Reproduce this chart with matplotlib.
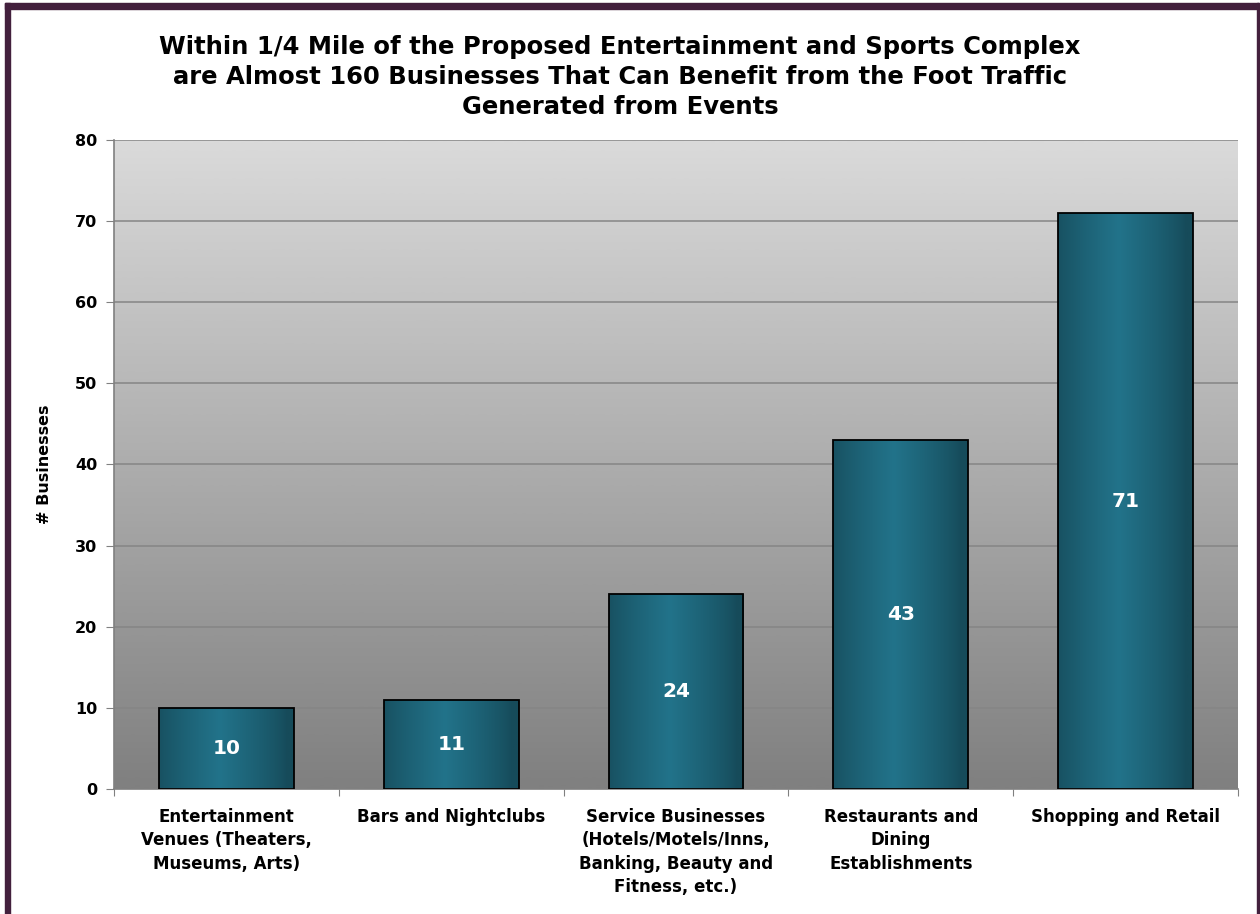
import numpy as np
import matplotlib
matplotlib.use('Agg')
import matplotlib.pyplot as plt
from matplotlib.patches import Rectangle

# categories and counts
categories = ['Entertainment\nVenues (Theaters,\nMuseums, Arts)',
              'Bars and Nightclubs',
              'Service Businesses\n(Hotels/Motels/Inns,\nBanking, Beauty and\nFitness, etc.)',
              'Restaurants and\nDining\nEstablishments',
              'Shopping and Retail']
counts = [10, 11, 24, 43, 71]
yticks = [0, 10, 20, 30, 40, 50, 60, 70, 80]

title = ('Within 1/4 Mile of the Proposed Entertainment and Sports Complex\n'
         'are Almost 160 Businesses That Can Benefit from the Foot Traffic\n'
         'Generated from Events')

plt.rcParams['font.family'] = ['DejaVu Sans']

W, H = 1260, 914
fig = plt.figure(figsize=(W/100, H/100), dpi=100)
fig.patch.set_facecolor('white')

# purple frame round the chart (top, left, right bands)
purple = '#43203d'
for (x0, y0, w0, h0) in [(5, 3, 1254, 6), (5, 3, 5, 920), (1257, 3, 2, 920)]:
    fig.patches.append(Rectangle((x0/W, 1-(y0+h0)/H), w0/W, h0/H,
                                 transform=fig.transFigure, color=purple, zorder=10))

ax = fig.add_axes([114/W, 1-789/H, (1238-114)/W, (789-140)/H])
x = np.arange(len(counts))
ax.set_xlim(-0.5, len(counts)-0.5)
ax.set_ylim(0, 80)

# gray vertical gradient behind the plot
bg = np.linspace(0.5, 0.855, 256).reshape(-1, 1)
ax.imshow(bg, cmap='gray', vmin=0, vmax=1, origin='lower', aspect='auto',
          extent=(-0.5, len(counts)-0.5, 0, 80), zorder=0, interpolation='bicubic')

for yv in yticks[1:]:
    ax.axhline(yv, color='#858585', linewidth=1.1, zorder=1)

# horizontal shading for the bars
dark = np.array([0x16, 0x4b, 0x5a]) / 255
light = np.array([0x22, 0x73, 0x8a]) / 255
t = np.linspace(0, 1, 200)
w = np.clip(1 - np.abs(t - 0.45) / 0.5, 0, 1) ** 0.8
grad = (dark[None, :] * (1 - w[:, None]) + light[None, :] * w[:, None])[None, :, :]

width = 0.6
bars = ax.bar(x, counts, width=width, color='none', edgecolor='black',
              linewidth=1.3, zorder=3)
for b, v in zip(bars, counts):
    im = ax.imshow(grad, aspect='auto', zorder=2, interpolation='bilinear',
                   extent=(b.get_x(), b.get_x()+width, 0, v))
    im.set_clip_path(b)
    ax.text(b.get_x()+width/2, v/2, str(v), color='white', fontsize=14.5,
            fontweight='bold', ha='center', va='center', zorder=4)

ax.set_yticks(yticks)
ax.set_yticklabels([str(v) for v in yticks], fontsize=11.5, fontweight='bold')
ax.set_xticks(np.arange(len(counts)+1) - 0.5)
ax.set_xticklabels([])
ax.set_xticks(x, minor=True)
ax.set_xticklabels(categories, minor=True, fontsize=12, fontweight='bold',
                   va='top', linespacing=1.36)
ax.tick_params(axis='x', which='minor', length=0, pad=14)
ax.tick_params(axis='x', which='major', length=5, color='#808080', direction='out')
ax.tick_params(axis='y', length=6, color='#808080', pad=6)
for s in ['top', 'right']:
    ax.spines[s].set_visible(False)
for s in ['left', 'bottom']:
    ax.spines[s].set_color('#808080')
    ax.spines[s].set_linewidth(1.2)

ax.set_ylabel('# Businesses', fontsize=11.5, fontweight='bold')
ax.yaxis.set_label_coords(-0.055, 0.5)

fig.text(0.492, 1-77/H, title, ha='center', va='center', fontsize=17.5,
         fontweight='bold', linespacing=1.32)

fig.savefig('out.png', dpi=100)
